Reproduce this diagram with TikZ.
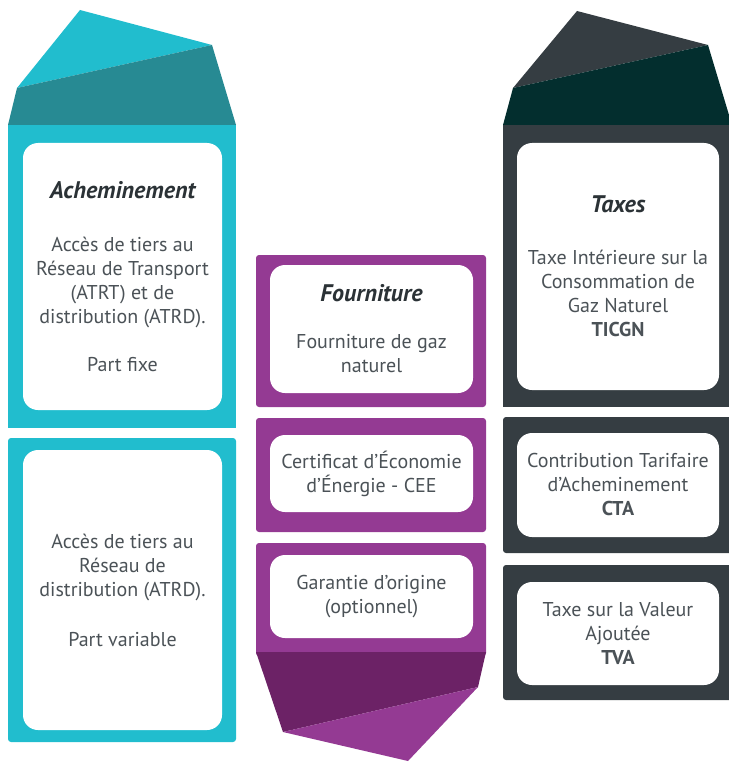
\documentclass[tikz,border=0pt]{standalone}
\usepackage{fontspec}
\setmainfont{PT Sans}
\usepackage{tikz}
\usetikzlibrary{positioning}
\definecolor{achcyan}{RGB}{33,189,206}
\definecolor{achteal}{RGB}{39,138,147}
\definecolor{fourpurple}{RGB}{148,58,147}
\definecolor{fourdark}{RGB}{108,34,102}
\definecolor{taxslate}{RGB}{53,61,66}
\definecolor{taxdark}{RGB}{3,46,46}
\definecolor{txtgray}{RGB}{75,82,87}
\definecolor{headgray}{RGB}{43,50,54}
\tikzstyle{panel} = [rounded corners=3pt]
\tikzstyle{card} = [rectangle, rounded corners=15pt, fill=white, text=txtgray, align=center, inner sep=0pt, font=\fontsize{20}{24}\selectfont]
\newcommand{\headline}[1]{{\fontsize{24}{24}\selectfont\bfseries\itshape\color{headgray}#1}}

\begin{document}
\begin{tikzpicture}[x=1pt,y=-1pt]
\useasboundingbox (0,0) rectangle (728,762);

% Acheminement
\fill[achcyan] (80,10) -- (212,45) -- (17,88) -- cycle;
\fill[achteal] (8,125) -- (17,88) -- (212,45) -- (236,125) -- cycle;
\fill[achcyan] (8,125) rectangle (236,428);
\fill[achcyan, panel] (8,438) rectangle (236,742);
\node[card, minimum width=199pt, minimum height=267pt] (achfixe) at (122.5,276.5)
  {\headline{Acheminement}\\[29pt] Accès de tiers au\\Réseau de Transport\\(ATRT) et de\\distribution (ATRD).\\[24pt] Part fixe};
\node[card, minimum width=199pt, minimum height=280pt] (achvar) at (122.5,590)
  {Accès de tiers au\\Réseau de\\distribution (ATRD).\\[26pt] Part variable};

% Fourniture
\fill[fourpurple, panel] (256,255) rectangle (486,407);
\fill[fourpurple, panel] (256,418) rectangle (486,532);
\fill[fourpurple, panel] (256,543) rectangle (486,656);
\fill[fourdark] (256,652) -- (486,652) -- (478,687) -- (283,732) -- cycle;
\fill[fourpurple] (283,732) -- (478,687) -- (408,761) -- cycle;
\node[card, minimum width=203pt, minimum height=128pt] (fourgaz) at (371.5,329)
  {\headline{Fourniture}\\[23pt] Fourniture de gaz\\naturel};
\node[card, minimum width=203pt, minimum height=77pt] (fourcee) at (371.5,473.5)
  {Certificat d’Économie\\d’Énergie - CEE};
\node[card, minimum width=203pt, minimum height=83pt] (fourgar) at (371.5,596.5)
  {Garantie d’origine\\(optionnel)};

% Taxes
\fill[taxslate] (577,11) -- (708,45) -- (513,88) -- cycle;
\fill[taxdark] (503,125) -- (513,88) -- (708,45) -- (732,125) -- cycle;
\fill[taxslate] (503,125) rectangle (732,407);
\fill[taxslate, panel] (503,417) rectangle (732,553);
\fill[taxslate, panel] (503,565) rectangle (732,700);
\node[card, minimum width=202pt, minimum height=247pt] (taxticgn) at (618,266.5)
  {\headline{Taxes}\\[28pt] Taxe Intérieure sur la\\Consommation de\\Gaz Naturel\\\textbf{TICGN}};
\node[card, minimum width=202pt, minimum height=104pt] (taxcta) at (618,485)
  {Contribution Tarifaire\\d’Acheminement\\\textbf{CTA}};
\node[card, minimum width=202pt, minimum height=103pt] (taxtva) at (618,633.5)
  {Taxe sur la Valeur\\Ajoutée\\\textbf{TVA}};
\end{tikzpicture}
\end{document}
